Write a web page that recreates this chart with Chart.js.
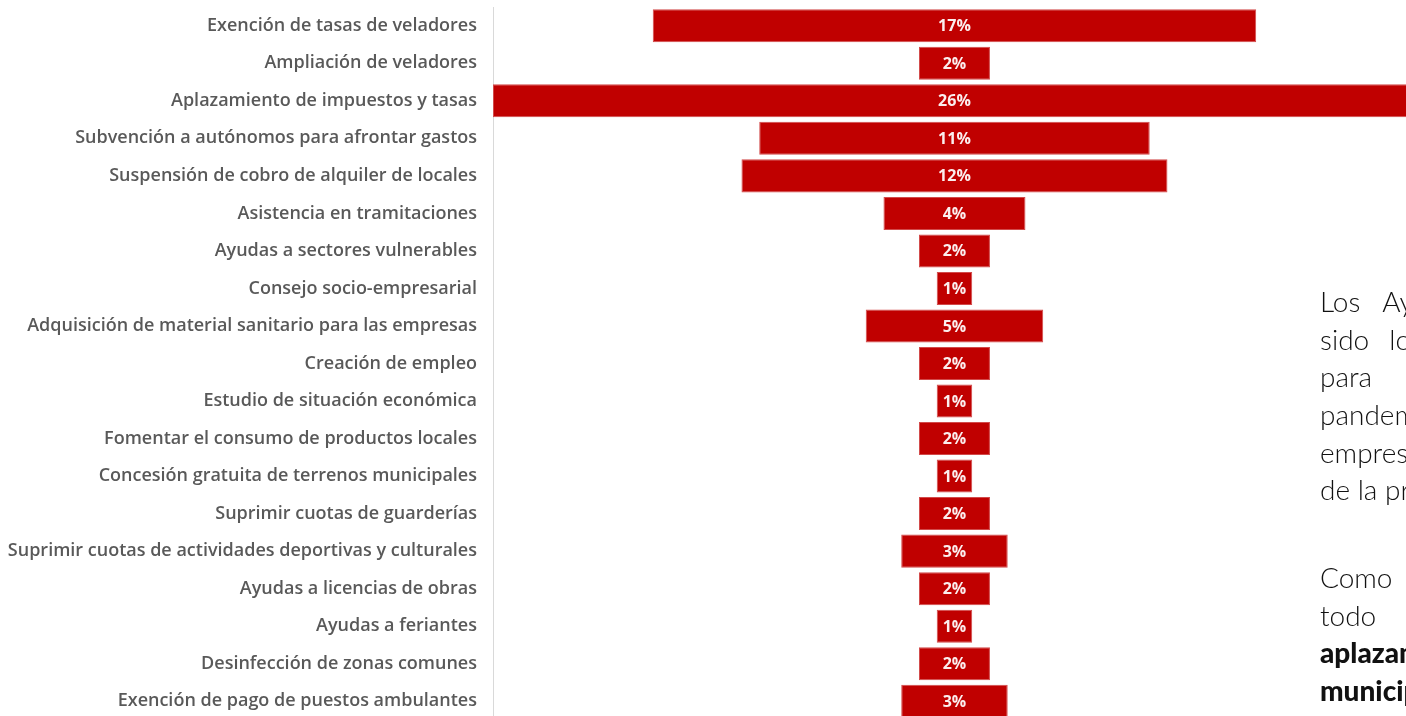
<!DOCTYPE html>
<html>
<head>
<meta charset="utf-8">
<script src="https://cdn.jsdelivr.net/npm/chart.js@4.4.0/dist/chart.umd.min.js"></script>
<style>
    html, body { margin: 0; padding: 0; background: #fff; overflow: hidden; }
    #wrap { position: relative; width: 1406px; height: 720px; }
    #side {
        position: absolute; left: 1320px; top: 0; width: 86px; height: 716px;
        overflow: hidden; font-family: Lato, sans-serif; font-weight: 300; font-size: 28px; color: #111;
    }
    #side div { position: absolute; left: 0; white-space: nowrap; line-height: 30px; }
    #side b { font-weight: 900; }
</style>
</head>
<body>
<div id="wrap">
    <canvas id="chart" width="1406" height="720"></canvas>
    <div id="side">
        <div style="top:286px">Los<span style="margin-left:22px">Ayuntamientos</span></div>
        <div style="top:324px">sido<span style="margin-left:20px">los</span></div>
        <div style="top:361px">para</div>
        <div style="top:399px">pandemia</div>
        <div style="top:437px">empresas</div>
        <div style="top:474px">de la provincia</div>
        <div style="top:562px">Como</div>
        <div style="top:600px">todo</div>
        <div style="top:637px"><b>aplazamiento</b></div>
        <div style="top:675px"><b>municipales</b></div>
    </div>
</div>
<script>
const categories = [
    'Exención de tasas de veladores',
    'Ampliación de veladores',
    'Aplazamiento de impuestos y tasas',
    'Subvención a autónomos para afrontar gastos',
    'Suspensión de cobro de alquiler de locales',
    'Asistencia en tramitaciones',
    'Ayudas a sectores vulnerables',
    'Consejo socio-empresarial',
    'Adquisición de material sanitario para las empresas',
    'Creación de empleo',
    'Estudio de situación económica',
    'Fomentar el consumo de productos locales',
    'Concesión gratuita de terrenos municipales',
    'Suprimir cuotas de guarderías',
    'Suprimir cuotas de actividades deportivas y culturales',
    'Ayudas a licencias de obras',
    'Ayudas a feriantes',
    'Desinfección de zonas comunes',
    'Exención de pago de puestos ambulantes'
];
const percentages = [17, 2, 26, 11, 12, 4, 2, 1, 5, 2, 1, 2, 1, 2, 3, 2, 1, 2, 3];

// bars centred on zero, like a funnel
const funnelData = percentages.map(v => [-v / 2, v / 2]);

const barLabels = {
    id: 'barLabels',
    afterDatasetsDraw(chart) {
        const ctx = chart.ctx;
        const meta = chart.getDatasetMeta(0);
        const xScale = chart.scales.x;
        ctx.save();
        ctx.fillStyle = '#fbeeee';
        ctx.font = 'bold 16px "Open Sans", sans-serif';
        ctx.textAlign = 'center';
        ctx.textBaseline = 'middle';
        meta.data.forEach((bar, i) => {
            ctx.fillText(percentages[i] + '%', xScale.getPixelForValue(0), bar.y + 1);
        });
        ctx.restore();
    }
};

new Chart(document.getElementById('chart').getContext('2d'), {
    type: 'bar',
    data: {
        labels: categories,
        datasets: [{
            data: funnelData,
            backgroundColor: '#c00000',
            borderColor: '#d24a4a',
            borderWidth: 1,
            borderSkipped: false,
            barPercentage: 0.88,
            categoryPercentage: 1
        }]
    },
    options: {
        indexAxis: 'y',
        responsive: false,
        animation: false,
        layout: { padding: { top: 7, right: 0, bottom: 0, left: 0 } },
        plugins: {
            legend: { display: false },
            tooltip: { enabled: false }
        },
        scales: {
            x: {
                display: false,
                min: -13,
                max: 12.72
            },
            y: {
                afterFit(scale) {
                    scale.width = 493;
                    scale.paddingTop = 0;
                    scale.paddingBottom = 0;
                },
                grid: { display: false, drawTicks: false },
                border: { display: true, color: '#d9d9d9', width: 1 },
                ticks: {
                    padding: 16,
                    color: '#595959',
                    font: { family: '"Open Sans", sans-serif', size: 18, weight: '600' }
                }
            }
        }
    },
    plugins: [barLabels]
});
</script>
</body>
</html>
